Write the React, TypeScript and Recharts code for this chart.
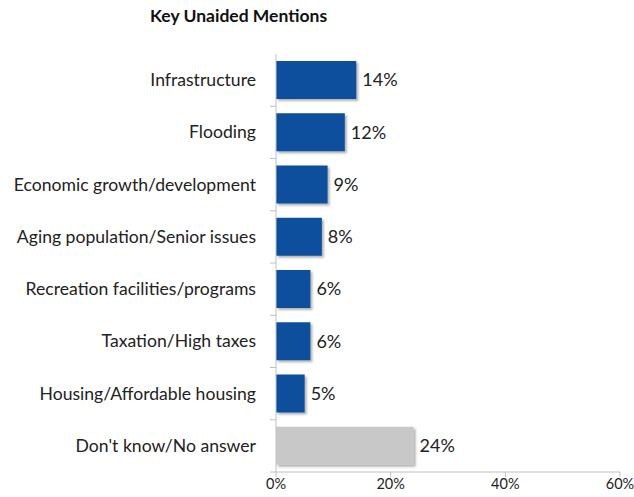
import React from "react";
import { BarChart, Bar, XAxis, YAxis, Cell, LabelList } from "recharts";

const categories = [
  "Infrastructure",
  "Flooding",
  "Economic growth/development",
  "Aging population/Senior issues",
  "Recreation facilities/programs",
  "Taxation/High taxes",
  "Housing/Affordable housing",
  "Don't know/No answer",
];
const values = [14, 12, 9, 8, 6, 6, 5, 24];
const barColors = ["#0B4F9C", "#0B4F9C", "#0B4F9C", "#0B4F9C", "#0B4F9C", "#0B4F9C", "#0B4F9C", "#C8C8C8"];
const xTicks = [0, 20, 40, 60];

const data = categories.map((name, i) => ({ name, value: values[i], color: barColors[i] }));

const FONT = "Lato, 'Open Sans', sans-serif";
const TOP = 54;
const PLOT_H = 418;
const BAND = PLOT_H / categories.length;

const YTick = (props: any) => {
  const { x, y, payload } = props;
  return (
    <g>
      <text x={x - 12} y={y} dy={6} textAnchor="end" fontSize={17.6} fill="#222" fontFamily={FONT}>
        {payload.value}
      </text>
      <line x1={x + 2} x2={x + 8} y1={y + BAND / 2} y2={y + BAND / 2} stroke="#BFBFBF" />
    </g>
  );
};

export default function App() {
  return (
    <div style={{ position: "absolute", left: 0, top: 0, width: 634, height: 497, background: "#fff" }}>
      <div
        style={{
          position: "absolute",
          left: 150,
          top: 5,
          fontFamily: FONT,
          fontWeight: 700,
          fontSize: 17.5,
          color: "#111",
          whiteSpace: "nowrap",
        }}
      >
        Key Unaided Mentions
      </div>
      <BarChart
        width={634}
        height={497}
        data={data}
        layout="vertical"
        margin={{ top: TOP, right: 14, bottom: 0, left: 0 }}
        barCategoryGap="13.5%"
      >
        <defs>
          <filter id="shadow" x="-10%" y="-10%" width="130%" height="140%">
            <feDropShadow dx="2" dy="2" stdDeviation="1.2" floodColor="#000" floodOpacity="0.3" />
          </filter>
        </defs>
        <XAxis
          type="number"
          domain={[0, 60]}
          ticks={xTicks}
          tickFormatter={(v: number) => `${v}%`}
          axisLine={{ stroke: "#BFBFBF" }}
          tickLine={{ stroke: "#BFBFBF" }}
          tickSize={5}
          tick={{ fontSize: 14.5, fill: "#222", fontFamily: FONT }}
          height={25}
          interval={0}
        />
        <YAxis
          type="category"
          dataKey="name"
          width={276}
          axisLine={{ stroke: "#BFBFBF" }}
          tickLine={false}
          tick={<YTick />}
          interval={0}
        />
        <Bar dataKey="value" isAnimationActive={false} filter="url(#shadow)">
          {data.map((d, i) => (
            <Cell key={i} fill={d.color} />
          ))}
          <LabelList
            dataKey="value"
            position="right"
            offset={6}
            formatter={(v: any) => `${v}%`}
            style={{ fontSize: 18, fill: "#222", fontFamily: FONT }}
          />
        </Bar>
      </BarChart>
    </div>
  );
}
